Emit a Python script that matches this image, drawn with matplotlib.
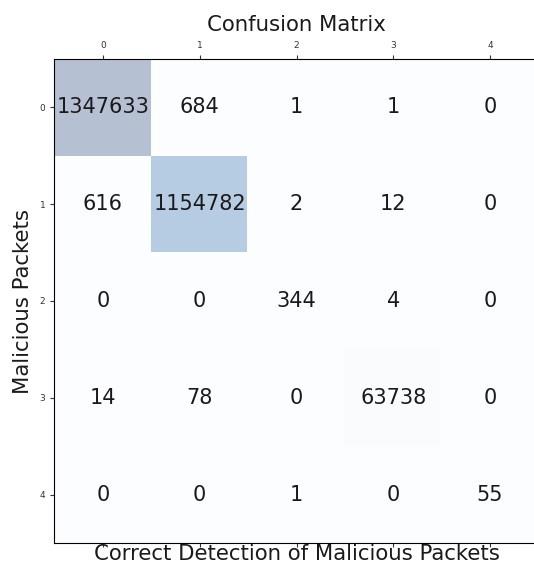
import numpy as np
import matplotlib
matplotlib.use("Agg")
import matplotlib.pyplot as plt

labels = [0, 1, 2, 3, 4]
conf_mat = np.array([
    [1347633, 684, 1, 1, 0],
    [616, 1154782, 2, 12, 0],
    [0, 0, 344, 4, 0],
    [14, 78, 0, 63738, 0],
    [0, 0, 1, 0, 55],
])

fig = plt.figure(figsize=(5.34, 5.67), dpi=100)
ax = fig.add_axes([54/534, 24/567, 485/534, 484/567])
ax.matshow(conf_mat, cmap=plt.cm.Blues, alpha=0.3)
for i in range(conf_mat.shape[0]):
    for j in range(conf_mat.shape[1]):
        ax.text(x=j, y=i, s=conf_mat[i, j], va='center', ha='center',
                fontsize=15, color='#1a1a1a')

ax.set_xticks(labels)
ax.set_yticks(labels)
ax.tick_params(labelsize=6.5, length=3, colors='#333333')
ax.spines['right'].set_visible(False)
ax.set_title('Confusion Matrix', fontsize=15.3, pad=7, color='#1a1a1a')
ax.set_xlabel('Correct Detection of Malicious Packets', fontsize=15.3, labelpad=-2, color='#1a1a1a')
ax.set_ylabel('Malicious Packets', fontsize=15.3, labelpad=5, color='#1a1a1a')

fig.savefig('out.png', dpi=100)
